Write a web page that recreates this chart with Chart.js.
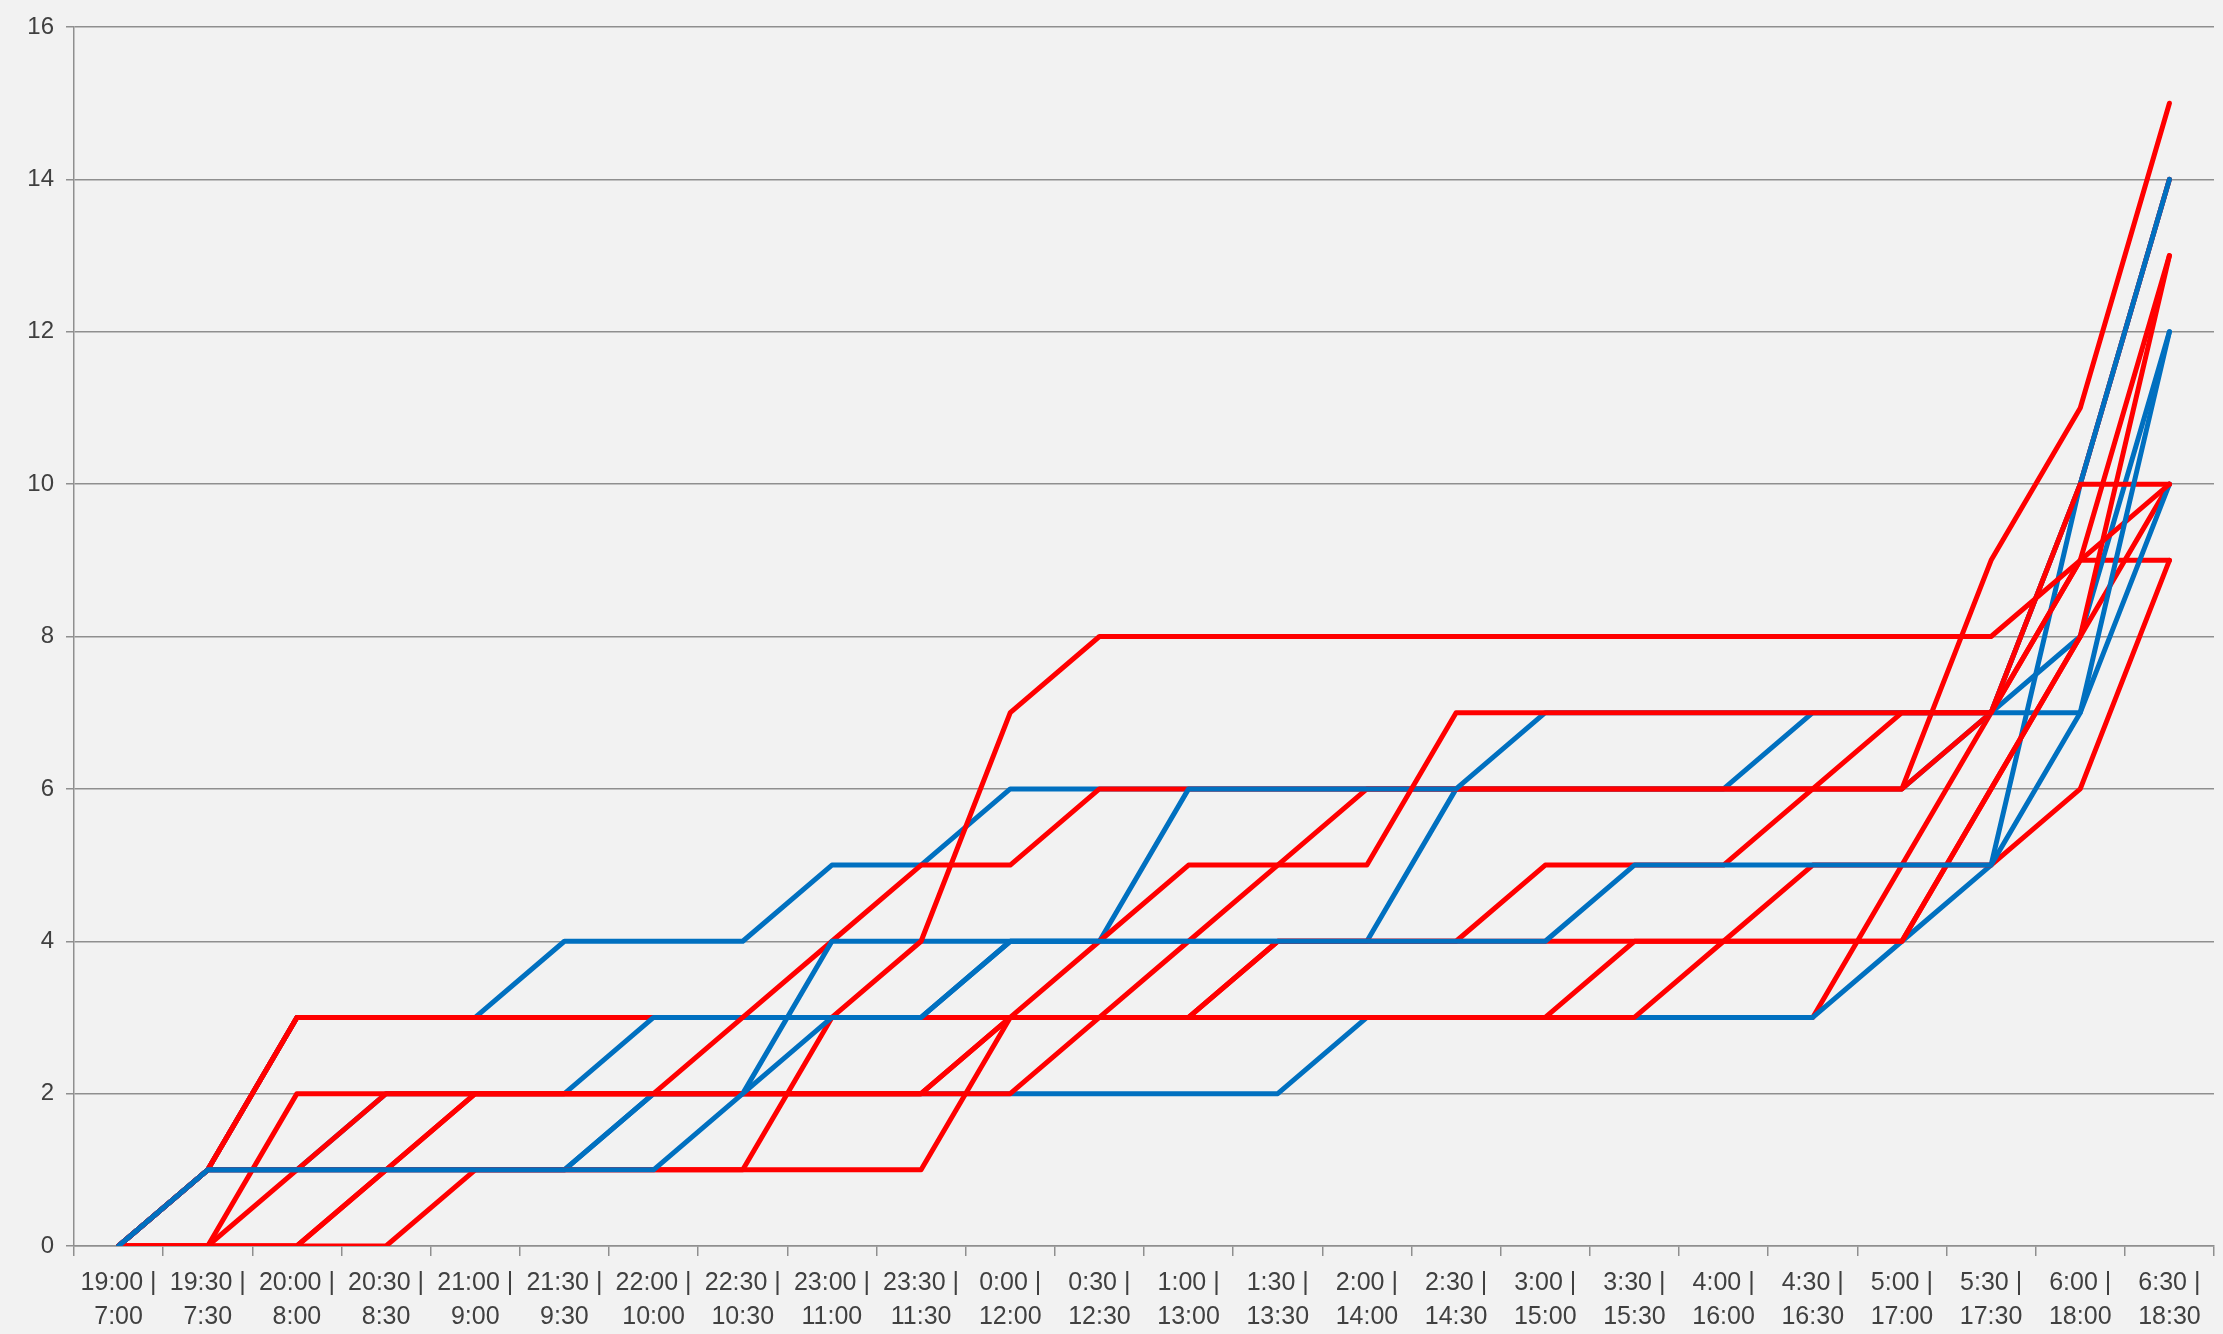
<!DOCTYPE html>
<html>
<head>
<meta charset="utf-8">
<script src="https://cdn.jsdelivr.net/npm/chart.js@4.4.1/dist/chart.umd.min.js"></script>
<style>
  html, body { margin: 0; background: #f2f2f2; }
  #wrap { width: 2223px; height: 1334px; }
</style>
</head>
<body>
<div id="wrap"><canvas id="chart"></canvas></div>
<script>
// ── Kategorien (Abend | Morgen) ─────────────────────────────
const evening = ['19:00','19:30','20:00','20:30','21:00','21:30','22:00','22:30','23:00','23:30','0:00','0:30',
                 '1:00','1:30','2:00','2:30','3:00','3:30','4:00','4:30','5:00','5:30','6:00','6:30'];
const morning = ['7:00','7:30','8:00','8:30','9:00','9:30','10:00','10:30','11:00','11:30','12:00','12:30',
                 '13:00','13:30','14:00','14:30','15:00','15:30','16:00','16:30','17:00','17:30','18:00','18:30'];
const categories = evening.map((e, i) => `${e} | ${morning[i]}`);
const yTicks = [0, 2, 4, 6, 8, 10, 12, 14, 16];

// ── Reihen (kumulativ) ──────────────────────────────────────
const blue1 = [0,1,1,1,1,1,2,2,4,4,4,4,6,6,6,6,7,7,7,7,7,7,10,14];
const blue2 = [0,1,1,1,1,1,1,2,3,3,4,4,4,4,4,4,4,5,5,5,5,5,7,12];
const blue3 = [0,1,3,3,3,4,4,4,5,5,6,6,6,6,6,6,6,6,6,7,7,7,8,12];
const blue4 = [0,1,1,2,2,2,3,3,3,3,4,4,4,4,4,6,6,6,6,6,6,7,7,10];
const blue5 = [0,1,1,1,1,1,2,2,2,2,2,2,2,2,3,3,3,3,3,3,4,5,10,14];

const redA = [0,1,3,3,3,3,3,3,3,3,3,3,3,3,3,3,3,3,4,5,5,5,6,9];
const redB = [0,0,2,2,2,2,2,3,4,5,5,6,6,6,6,6,6,6,6,6,6,9,11,15];
const redC = [0,0,1,2,2,2,2,2,2,2,2,3,4,5,6,6,6,6,6,6,6,7,10,14];
const redD = [0,0,0,1,2,2,2,2,2,2,3,3,3,4,4,4,5,5,5,6,7,7,9,10];
const redE = [0,0,0,0,1,1,1,1,3,4,7,8,8,8,8,8,8,8,8,8,8,8,9,13];
const redF = [0,1,1,1,1,1,1,1,1,1,3,4,5,5,5,7,7,7,7,7,7,7,10,10];
const redG = [0,0,0,1,2,2,2,2,2,2,3,3,3,4,4,4,4,4,4,4,4,6,8,13];
const redH = [0,1,3,3,3,3,3,3,3,3,3,3,3,3,3,3,3,4,4,4,4,6,8,10];
const redI = [0,1,3,3,3,3,3,3,3,3,3,3,3,3,3,3,3,3,3,3,5,7,9,9];

const RED  = '#ff0000';
const BLUE = '#0070c0';
const GRID = '#8f8f8f';
const TXT  = '#404040';
const FONT = { family: 'Liberation Sans', size: 25 };

const line = (data, color) => ({
  data, borderColor: color, borderWidth: 5, pointRadius: 0,
  tension: 0, fill: false, borderJoinStyle: 'round', borderCapStyle: 'round'
});

// erste Reihe liegt oben
const datasets = [
  line(blue2, BLUE), line(redF, RED), line(redE, RED), line(redD, RED), line(redG, RED),
  line(blue1, BLUE), line(redB, RED), line(redC, RED), line(blue4, BLUE), line(redA, RED),
  line(redH, RED), line(blue3, BLUE), line(blue5, BLUE), line(redI, RED)
];

new Chart(document.getElementById('chart'), {
  type: 'line',
  data: { labels: categories, datasets },
  options: {
    responsive: true, maintainAspectRatio: false, animation: false,
    layout: { padding: { top: 27, right: 9, left: 0, bottom: 0 } },
    plugins: { legend: { display: false }, tooltip: { enabled: false } },
    scales: {
      x: {
        type: 'category', offset: true,
        grid: { offset: true, drawOnChartArea: false, drawTicks: true, tickLength: 10, color: GRID, lineWidth: 1.5 },
        border: { display: true, color: GRID, width: 1.5 },
        ticks: {
          autoSkip: false, maxRotation: 0, minRotation: 0, padding: 10, color: TXT,
          font: { ...FONT, lineHeight: 1.35 },
          callback: (v, i) => [evening[i] + ' |', morning[i]]
        },
        afterFit: s => { s.height = 88; }
      },
      y: {
        min: 0, max: 16,
        afterBuildTicks: s => { s.ticks = yTicks.map(v => ({ value: v })); },
        grid: { color: GRID, lineWidth: 1.5, tickLength: 8 },
        border: { display: true, color: GRID, width: 1.5 },
        ticks: { color: TXT, font: { ...FONT, size: 24 }, padding: 12 },
        afterFit: s => { s.width = 74; }
      }
    }
  }
});
</script>
</body>
</html>
